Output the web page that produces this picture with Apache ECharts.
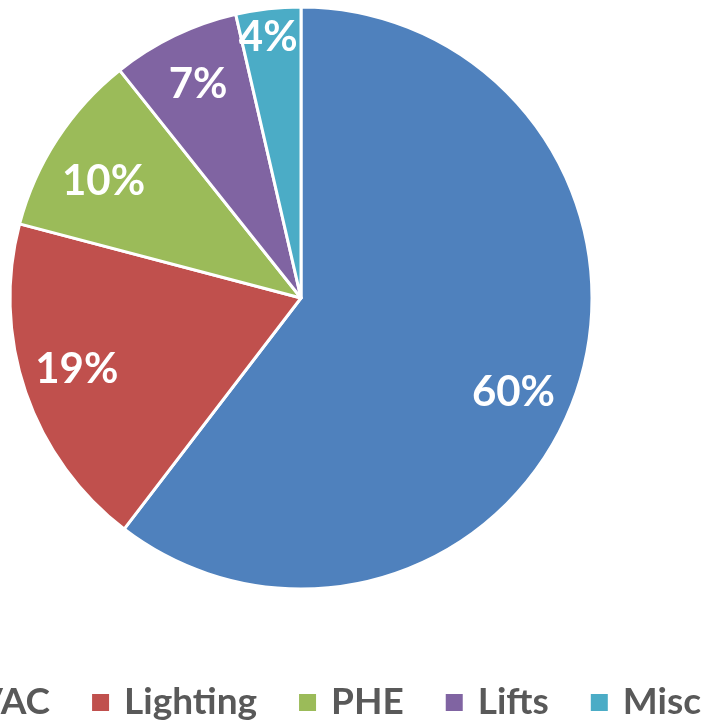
<!DOCTYPE html>
<html>
<head>
<meta charset="utf-8">
<script src="https://cdn.jsdelivr.net/npm/echarts@6/dist/echarts.min.js"></script>
<style>
html,body{margin:0;padding:0;background:#fff;}
#chart{width:701px;height:723px;}
</style>
</head>
<body>
<div id="chart"></div>
<script>
// Data
var categories = ['HVAC', 'Lighting', 'PHE', 'Lifts', 'Misc'];
var shares = [60.4, 18.7, 10.2, 7.1, 3.6];

// Styles
var colors = ['#4F81BD', '#C0504D', '#9BBB59', '#8064A2', '#4BACC6'];
var labelOffsets = [[-12, 18], [0, -5], [1, 13], [0, 0], [-6, -25]];

var chart = echarts.init(document.getElementById('chart'), null, {renderer: 'canvas'});

var mainData = categories.map(function (c, i) {
  return {name: c, value: shares[i], itemStyle: {color: colors[i]}};
});
var labelData = categories.map(function (c, i) {
  return {name: c, value: shares[i], label: {offset: labelOffsets[i]}};
});

var option = {
  animation: false,
  backgroundColor: '#ffffff',
  color: colors,
  legend: {
    data: categories,
    top: 679,
    right: -5,
    width: 1200,
    orient: 'horizontal',
    icon: 'rect',
    itemWidth: 19,
    itemHeight: 19,
    itemGap: 40,
    selectedMode: false,
    textStyle: {
      fontFamily: 'Lato',
      fontWeight: 'bold',
      fontSize: 37,
      color: '#595959',
      padding: [0, 0, 0, 9]
    }
  },
  series: [
    {
      type: 'pie',
      center: [301, 298],
      radius: [0, 291],
      startAngle: 90,
      clockwise: true,
      silent: true,
      label: {show: false},
      labelLine: {show: false},
      itemStyle: {borderColor: '#ffffff', borderWidth: 3},
      data: mainData
    },
    {
      type: 'pie',
      center: [301, 298],
      radius: [177, 291],
      startAngle: 90,
      clockwise: true,
      silent: true,
      legendHoverLink: false,
      itemStyle: {color: 'rgba(0,0,0,0)', borderWidth: 0},
      label: {
        show: true,
        position: 'inside',
        fontFamily: 'Lato',
        fontWeight: 'bold',
        fontSize: 42,
        color: '#ffffff',
        formatter: function (p) { return Math.round(p.percent) + '%'; }
      },
      labelLine: {show: false},
      data: labelData
    }
  ]
};
chart.setOption(option);
</script>
</body>
</html>
